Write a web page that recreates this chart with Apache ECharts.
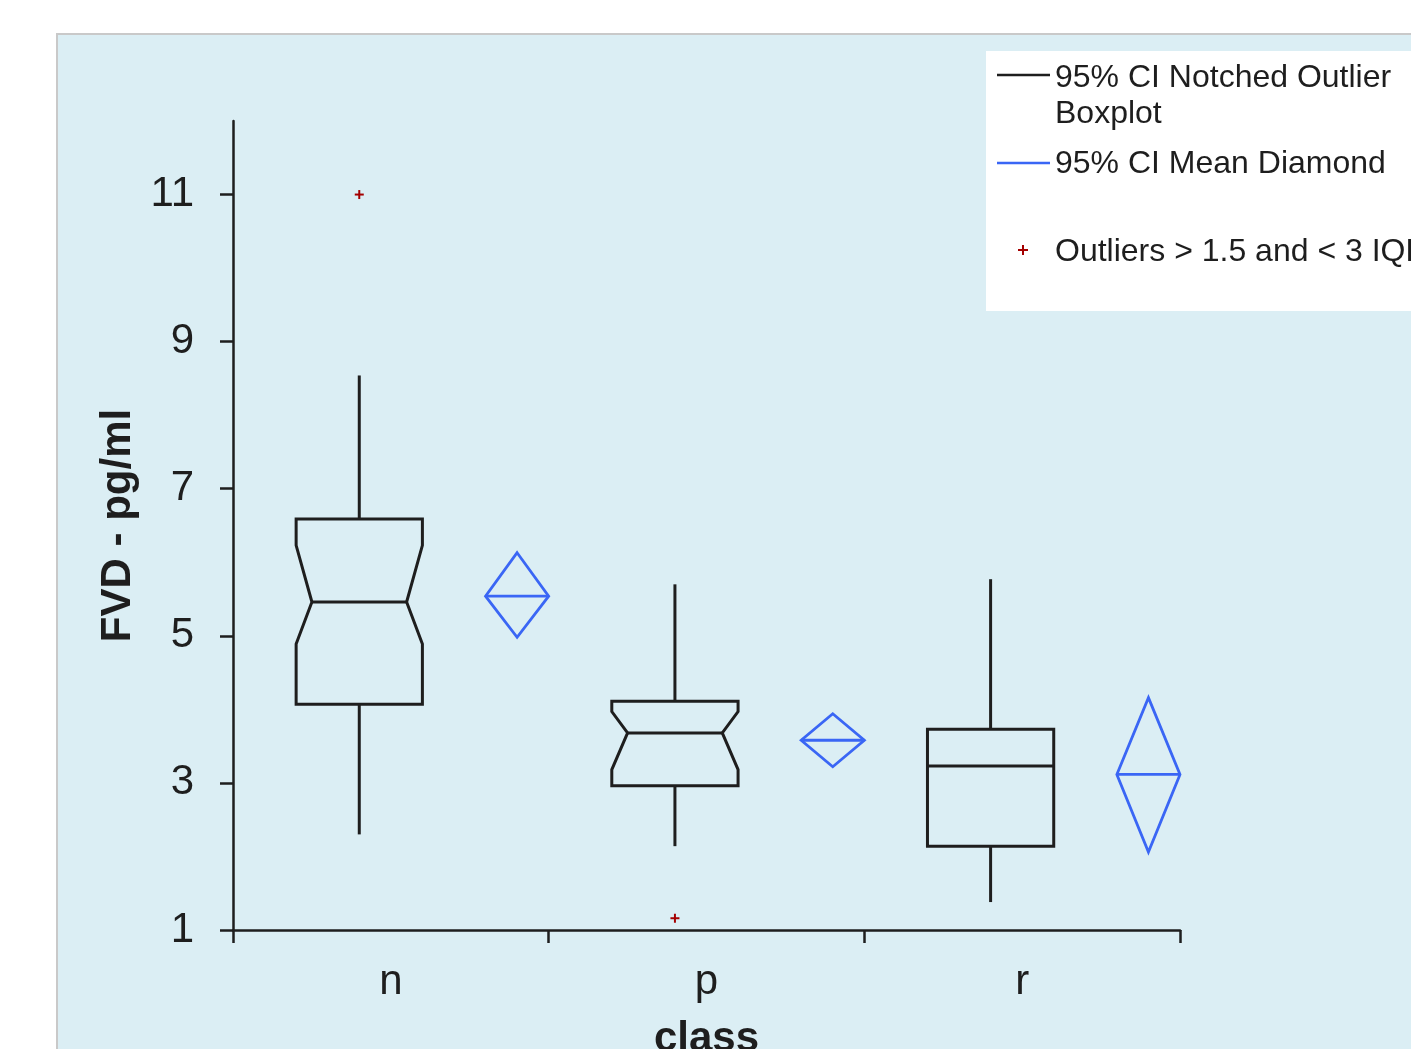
<!DOCTYPE html>
<html>
<head>
<meta charset="utf-8">
<script src="https://cdn.jsdelivr.net/npm/echarts@6/dist/echarts.min.js"></script>
<style>
html,body{margin:0;padding:0;background:#fff;overflow:hidden;}
#chart{width:1411px;height:1049px;}
</style>
</head>
<body>
<div id="chart"></div>
<script>
// ---- data ----
const categories = ['n', 'p', 'r'];
const whiskerLow  = [2.30, 2.14, 1.38];
const q1          = [4.07, 2.96, 2.14];
const median      = [5.46, 3.68, 3.23];
const q3          = [6.59, 4.11, 3.73];
const whiskerHigh = [8.54, 5.70, 5.77];
const notchLow    = [4.89, 3.18, null];
const notchHigh   = [6.23, 3.97, null];
const meanCenter  = [5.54, 3.58, 3.115];
const meanLow     = [4.98, 3.22, 2.06];
const meanHigh    = [6.13, 3.94, 4.16];
const outlierCats = ['n', 'p'];
const outlierVals = [11.0, 1.16];
const yTicks = [1, 3, 5, 7, 9, 11];
const legendTexts = ['95% CI Notched Outlier', 'Boxplot', '95% CI Mean Diamond', 'Outliers > 1.5 and < 3 IQR'];

const FONT = '"Liberation Sans", Arial, Helvetica, sans-serif';
const BLACK = '#1e1e1e';
const BLUE = '#3a66f5';
const RED = '#a40000';

const chart = echarts.init(document.getElementById('chart'), null, {renderer: 'canvas', width: 1411, height: 1049});

function renderBox(params, api) {
  const i = params.dataIndex;
  const idx = api.value(0);
  const bw = api.size([1, 0])[0];
  const c = api.coord([idx, 1])[0] - 0.1 * bw;
  const hw = 0.2 * bw, ins = 0.05 * bw;
  const L = c - hw, R = c + hw;
  const y = v => api.coord([idx, v])[1];
  const style = {stroke: BLACK, lineWidth: 3, fill: null, lineJoin: 'miter'};
  let pts, medLine;
  if (notchLow[i] != null) {
    pts = [[L, y(q3[i])], [R, y(q3[i])], [R, y(notchHigh[i])], [R - ins, y(median[i])], [R, y(notchLow[i])],
           [R, y(q1[i])], [L, y(q1[i])], [L, y(notchLow[i])], [L + ins, y(median[i])], [L, y(notchHigh[i])]];
    medLine = [L + ins, R - ins];
  } else {
    pts = [[L, y(q3[i])], [R, y(q3[i])], [R, y(q1[i])], [L, y(q1[i])]];
    medLine = [L, R];
  }
  return {
    type: 'group',
    children: [
      {type: 'line', shape: {x1: c, y1: y(q3[i]), x2: c, y2: y(whiskerHigh[i])}, style: style},
      {type: 'line', shape: {x1: c, y1: y(q1[i]), x2: c, y2: y(whiskerLow[i])}, style: style},
      {type: 'polygon', shape: {points: pts}, style: style},
      {type: 'line', shape: {x1: medLine[0], y1: y(median[i]), x2: medLine[1], y2: y(median[i])}, style: style}
    ]
  };
}

function renderDiamond(params, api) {
  const i = params.dataIndex;
  const idx = api.value(0);
  const bw = api.size([1, 0])[0];
  const c = api.coord([idx, 1])[0] + 0.4 * bw;
  const hw = 0.1 * bw;
  const y = v => api.coord([idx, v])[1];
  const style = {stroke: BLUE, lineWidth: 2.8, fill: null};
  return {
    type: 'group',
    children: [
      {type: 'polygon', shape: {points: [[c, y(meanHigh[i])], [c + hw, y(meanCenter[i])], [c, y(meanLow[i])], [c - hw, y(meanCenter[i])]]}, style: style},
      {type: 'line', shape: {x1: c - hw, y1: y(meanCenter[i]), x2: c + hw, y2: y(meanCenter[i])}, style: style}
    ]
  };
}

function renderOutlier(params, api) {
  const idx = api.value(0);
  const bw = api.size([1, 0])[0];
  const p = api.coord([idx, api.value(1)]);
  const cx = p[0] - 0.1 * bw, cy = p[1], s = 4.5;
  const style = {stroke: RED, lineWidth: 2};
  return {
    type: 'group',
    children: [
      {type: 'line', shape: {x1: cx - s, y1: cy, x2: cx + s, y2: cy}, style: style},
      {type: 'line', shape: {x1: cx, y1: cy - s, x2: cx, y2: cy + s}, style: style}
    ]
  };
}

const legendX = 997, textX = 1055;
const LF = '32px ' + FONT;
const option = {
  backgroundColor: '#ffffff',
  animation: false,
  textStyle: {fontFamily: FONT},
  grid: {left: 233, width: 947, top: 121, height: 809, containLabel: false, outerBoundsMode: 'none'},
  xAxis: {
    type: 'category',
    data: categories,
    boundaryGap: true,
    name: 'class',
    nameLocation: 'middle',
    nameGap: 88,
    nameTextStyle: {fontFamily: FONT, fontSize: 42, fontWeight: 'bold', color: BLACK},
    axisLine: {show: true, onZero: false, lineStyle: {color: BLACK, width: 2.5}},
    axisTick: {show: true, length: 13, alignWithLabel: false, lineStyle: {color: BLACK, width: 2.5}},
    axisLabel: {fontFamily: FONT, fontSize: 42, color: BLACK, margin: 31},
    splitLine: {show: false}
  },
  yAxis: {
    type: 'value',
    min: 1,
    max: 12,
    name: 'FVD - pg/ml',
    nameLocation: 'middle',
    nameRotate: 90,
    nameGap: 93,
    nameTextStyle: {fontFamily: FONT, fontSize: 42, fontWeight: 'bold', color: BLACK},
    axisLine: {show: true, onZero: false, lineStyle: {color: BLACK, width: 2.5}},
    axisTick: {show: true, length: 13, customValues: yTicks, lineStyle: {color: BLACK, width: 2.5}},
    axisLabel: {fontFamily: FONT, fontSize: 42, color: BLACK, margin: 39, customValues: yTicks},
    splitLine: {show: false}
  },
  series: [
    {
      type: 'custom', name: 'box', renderItem: renderBox, clip: false,
      encode: {x: 0, y: [1, 2, 3, 4, 5]},
      data: categories.map((c, i) => [i, whiskerLow[i], q1[i], median[i], q3[i], whiskerHigh[i]])
    },
    {
      type: 'custom', name: 'diamond', renderItem: renderDiamond, clip: false,
      encode: {x: 0, y: [1, 2, 3]},
      data: categories.map((c, i) => [i, meanLow[i], meanCenter[i], meanHigh[i]])
    },
    {
      type: 'custom', name: 'outliers', renderItem: renderOutlier, clip: false,
      encode: {x: 0, y: 1},
      data: outlierCats.map((c, i) => [categories.indexOf(c), outlierVals[i]])
    }
  ],
  graphic: [
    {type: 'rect', z: -10, shape: {x: 57, y: 34, width: 1420, height: 1100}, style: {fill: '#dbeef4', stroke: '#c9c9c9', lineWidth: 2}},
    {type: 'rect', z: -5, shape: {x: 986, y: 51, width: 500, height: 260}, style: {fill: '#ffffff'}},
    {type: 'line', z: 10, shape: {x1: legendX, y1: 75, x2: 1050, y2: 75}, style: {stroke: BLACK, lineWidth: 2.5}},
    {type: 'text', z: 10, x: textX, y: 78, style: {text: legendTexts[0], font: LF, fill: BLACK, verticalAlign: 'middle'}},
    {type: 'text', z: 10, x: textX, y: 114, style: {text: legendTexts[1], font: LF, fill: BLACK, verticalAlign: 'middle'}},
    {type: 'line', z: 10, shape: {x1: legendX, y1: 163, x2: 1050, y2: 163}, style: {stroke: BLUE, lineWidth: 2.5}},
    {type: 'text', z: 10, x: textX, y: 164, style: {text: legendTexts[2], font: LF, fill: BLACK, verticalAlign: 'middle'}},
    {type: 'line', z: 10, shape: {x1: 1018, y1: 250, x2: 1028, y2: 250}, style: {stroke: RED, lineWidth: 2}},
    {type: 'line', z: 10, shape: {x1: 1023, y1: 245, x2: 1023, y2: 255}, style: {stroke: RED, lineWidth: 2}},
    {type: 'text', z: 10, x: textX, y: 252, style: {text: legendTexts[3], font: LF, fill: BLACK, verticalAlign: 'middle'}}
  ]
};
chart.setOption(option);
</script>
</body>
</html>
